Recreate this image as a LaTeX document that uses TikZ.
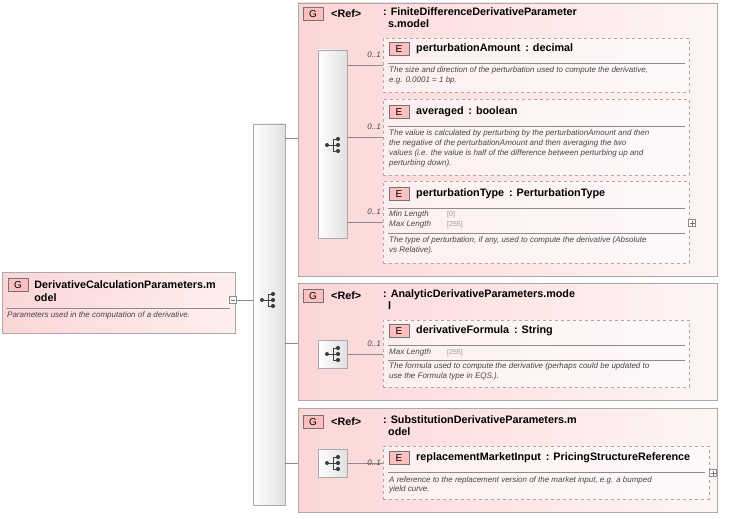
\documentclass[tikz,border=0pt]{standalone}
\usepackage{fontspec}
\setmainfont{Liberation Sans}
\usetikzlibrary{positioning}
\definecolor{grpink}{RGB}{252,214,214}
\definecolor{edge}{RGB}{170,170,170}
\definecolor{txtgray}{RGB}{70,70,70}

\begin{document}
\begin{tikzpicture}[x=1pt, y=-1pt, font=\fontsize{8}{9}\selectfont,
grp/.style = {draw=edge, left color=grpink, right color=grpink!25},
elem/.style = {draw=edge, dashed, fill=white, fill opacity=0.55, text opacity=1},
seqbar/.style = {draw=edge, left color=white, right color=black!12},
tag/.style = {draw=black!55, fill=red!25, minimum width=20pt, minimum height=13pt, inner sep=0pt, font=\fontsize{10}{10}\selectfont},
ttl/.style = {anchor=west, align=left, inner sep=0pt, font=\fontsize{10.8}{12.5}\selectfont\bfseries},
dsc/.style = {anchor=north west, align=left, inner sep=0pt, text=txtgray, font=\fontsize{8}{9.8}\selectfont\itshape},
mult/.style = {anchor=east, inner sep=0pt, font=\fontsize{8}{8}\selectfont\itshape, text=txtgray},
conn/.style = {draw=black!45},
sep/.style = {draw=black!45},
pm/.style = {draw=black!45, fill=white, minimum size=7pt, inner sep=0pt},
seq/.pic = {
  \fill[black!75] (-7,0) circle (2);
  \draw[black!75, line width=1pt] (-7,0) -- (-1,0) (-1,-6) -- (-1,6) (-1,-6) -- (4,-6) (-1,6) -- (4,6) (-1,0) -- (4,0);
  \foreach \k in {-6,0,6} \fill[black!75] (4,\k) circle (2.1);
}]
\useasboundingbox (0,0) rectangle (729,519);

% root element
\node[draw=edge, left color=grpink, right color=grpink!40, minimum width=233pt, minimum height=61pt, inner sep=0pt] (root) at (118.5,302.5) {};
\node[tag] (rootg) at (18,285) {G};
\node[ttl, right=6pt of rootg.east, yshift=-6pt] (roottitle) {DerivativeCalculationParameters.m\\odel};
\draw[sep] (6,308) -- (230,308);
\node[dsc] (rootdsc) at (7,312) {Parameters used in the computation of a derivative.};
\node[pm] (rootpm) at (233,300) {}; \draw[black!55] (231,300) -- (235,300);

% main sequence
\node[seqbar, minimum width=32pt, minimum height=381pt, inner sep=0pt] (mainseq) at (269,314.5) {};
\pic at (269,300) {seq};
\coordinate (rootin) at (253,300);
\draw[conn] (rootpm) -- (rootin);

% group 1
\node[grp, minimum width=419pt, minimum height=273pt, inner sep=0pt] (grpa) at (507.5,139.5) {};
\node[tag] (grpag) at (313,14) {G};
\node[ttl] (grpaf) at (331,14) {<Ref>};
\node[ttl, anchor=north west] (grpaname) at (383,7) {: FiniteDifferenceDerivativeParameter\\\hspace*{5pt}s.model};
\node[seqbar, minimum width=29pt, minimum height=188pt, inner sep=0pt] (seqa) at (332.5,144) {};
\pic at (334,145) {seq};
\coordinate (grpain) at (298,138);
\draw[conn] (mainseq.east |- grpain) -- (grpain);

\node[elem, minimum width=306pt, minimum height=54pt, inner sep=0pt] (amount) at (536,65) {};
\node[tag] (amountg) at (399,49) {E};
\node[ttl] (amountt) at (416,49) {perturbationAmount \,: decimal};
\draw[sep] (388,63) -- (685,63);
\node[dsc] (amountd) at (389,67) {The size and direction of the perturbation used to compute the derivative,\\e.g. 0.0001 = 1 bp.};
\draw[conn] (seqa.east |- amount.west) -- (amount.west);
\node[mult] at (381,55) {0..1};

\node[elem, minimum width=306pt, minimum height=76pt, inner sep=0pt] (averaged) at (536,137) {};
\node[tag] (averagedg) at (399,112) {E};
\node[ttl] (averagedt) at (416,112) {averaged \,: boolean};
\draw[sep] (388,126) -- (685,126);
\node[dsc] (averagedd) at (389,130) {The value is calculated by perturbing by the perturbationAmount and then\\the negative of the perturbationAmount and then averaging the two\\values (i.e. the value is half of the difference between perturbing up and\\perturbing down).};
\draw[conn] (seqa.east |- averaged.west) -- (averaged.west);
\node[mult] at (381,127) {0..1};

\node[elem, minimum width=306pt, minimum height=82pt, inner sep=0pt] (ptype) at (536,222) {};
\node[tag] (ptypeg) at (399,194) {E};
\node[ttl] (ptypet) at (416,194) {perturbationType \,: PerturbationType};
\draw[sep] (388,208) -- (685,208);
\node[dsc] (ptypemin) at (389,211) {Min Length\\Max Length};
\node[dsc, text=black!40, font=\fontsize{7}{9.8}\selectfont] at (447,211) {[0]\\{[255]}};
\draw[sep] (388,233) -- (685,233);
\node[dsc] (ptyped) at (389,237) {The type of perturbation, if any, used to compute the derivative (Absolute\\vs Relative).};
\draw[conn] (seqa.east |- ptype.west) -- (ptype.west);
\node[mult] at (381,212) {0..1};
\node[pm] (ptypepm) at (692,223) {}; \draw[black!55] (689.5,223) -- (694.5,223) (692,220.5) -- (692,225.5);

% group 2
\node[grp, minimum width=419pt, minimum height=117pt, inner sep=0pt] (grpb) at (507.5,341.5) {};
\node[tag] (grpbg) at (313,296) {G};
\node[ttl] (grpbf) at (331,296) {<Ref>};
\node[ttl, anchor=north west] (grpbname) at (383,289) {: AnalyticDerivativeParameters.mode\\\hspace*{5pt}l};
\node[seqbar, minimum width=29pt, minimum height=28pt, inner sep=0pt] (seqb) at (332.5,354) {};
\pic at (334,354) {seq};
\coordinate (grpbin) at (298,343);
\draw[conn] (mainseq.east |- grpbin) -- (grpbin);

\node[elem, minimum width=306pt, minimum height=67pt, inner sep=0pt] (dformula) at (536,353.5) {};
\node[tag] (dformulag) at (399,331) {E};
\node[ttl] (dformulat) at (416,331) {derivativeFormula \,: String};
\draw[sep] (388,345) -- (685,345);
\node[dsc] (dformulamax) at (389,349) {Max Length};
\node[dsc, text=black!40, font=\fontsize{7}{9.8}\selectfont] at (447,349) {[255]};
\draw[sep] (388,360) -- (685,360);
\node[dsc] (dformulad) at (389,363) {The formula used to compute the derivative (perhaps could be updated to\\use the Formula type in EQS.).};
\draw[conn] (seqb.east) -- (dformula.west |- seqb.east);
\node[mult] at (381,344) {0..1};

% group 3
\node[grp, minimum width=419pt, minimum height=104pt, inner sep=0pt] (grpc) at (507.5,460) {};
\node[tag] (grpcg) at (313,422) {G};
\node[ttl] (grpcf) at (331,422) {<Ref>};
\node[ttl, anchor=north west] (grpcname) at (383,415) {: SubstitutionDerivativeParameters.m\\\hspace*{5pt}odel};
\node[seqbar, minimum width=29pt, minimum height=28pt, inner sep=0pt] (seqc) at (332.5,463) {};
\pic at (334,463) {seq};
\coordinate (grpcin) at (298,463);
\draw[conn] (mainseq.east |- grpcin) -- (grpcin);

\node[elem, minimum width=326pt, minimum height=53pt, inner sep=0pt] (rmi) at (546,472.5) {};
\node[tag] (rmig) at (399,458) {E};
\node[ttl] (rmit) at (416,458) {replacementMarketInput \,: PricingStructureReference};
\draw[sep] (388,472) -- (705,472);
\node[dsc] (rmid) at (389,476) {A reference to the replacement version of the market input, e.g. a bumped\\yield curve.};
\draw[conn] (seqc.east) -- (rmi.west |- seqc.east);
\node[mult] at (381,463) {0..1};
\node[pm] (rmipm) at (713,473) {}; \draw[black!55] (710.5,473) -- (715.5,473) (713,470.5) -- (713,475.5);
\end{tikzpicture}
\end{document}
